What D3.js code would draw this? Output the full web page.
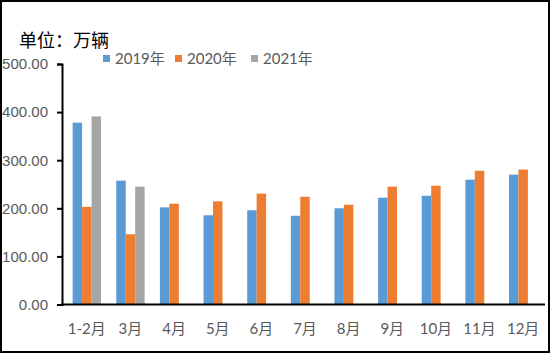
<!DOCTYPE html>
<html>
<head>
<meta charset="utf-8">
<script src="https://cdn.jsdelivr.net/npm/d3@7"></script>
<style>
  body { margin: 0; background: #fff; }
  svg { display: block; font-family: Lato, "Noto Sans CJK SC", sans-serif; }
</style>
</head>
<body>
<div id="chart"></div>
<script>
const width = 550, height = 353;

const months = ["1-2月", "3月", "4月", "5月", "6月", "7月", "8月", "9月", "10月", "11月", "12月"];
const seriesNames = ["2019年", "2020年", "2021年"];
const v2019 = [378, 257.5, 202, 185.5, 196, 184.5, 200, 222, 226, 259.5, 270];
const v2020 = [203, 146, 209.5, 214.5, 230.5, 224, 207.5, 245, 247, 278, 280.5];
const v2021 = [391, 245, null, null, null, null, null, null, null, null, null];
const yTicks = [0, 100, 200, 300, 400, 500];
const colors = ["#5B9BD5", "#ED7D31", "#A5A5A5"];

const seriesValues = [v2019, v2020, v2021];

const svg = d3.select("#chart")
  .append("svg")
  .attr("width", width)
  .attr("height", height);

// frame
svg.append("rect")
  .attr("x", 1).attr("y", 1)
  .attr("width", width - 2).attr("height", height - 2)
  .attr("fill", "none")
  .attr("stroke", "#000")
  .attr("stroke-width", 2);

const x0 = d3.scaleBand().domain(months).range([65, 545]).paddingInner(0.35).paddingOuter(0.175);
const x1 = d3.scaleBand().domain(seriesNames).range([0, x0.bandwidth()]);
const y = d3.scaleLinear().domain([0, 500]).range([304.5, 64]);

// bars
const groups = svg.append("g")
  .selectAll("g")
  .data(months)
  .join("g")
  .attr("transform", d => `translate(${x0(d)},0)`);

groups.selectAll("rect")
  .data((m, i) => seriesNames.map((s, k) => ({ s, k, v: seriesValues[k][i] })).filter(d => d.v != null))
  .join("rect")
  .attr("x", d => x1(d.s))
  .attr("width", x1.bandwidth())
  .attr("y", d => y(d.v))
  .attr("height", d => y(0) - y(d.v))
  .attr("fill", d => colors[d.k]);

// y axis
const yAxis = svg.append("g")
  .attr("transform", "translate(62,0)")
  .call(d3.axisLeft(y).tickValues(yTicks).tickFormat(d3.format(".2f")).tickSizeOuter(0).tickSize(5).tickPadding(9));
yAxis.select(".domain").attr("stroke", "#000").attr("stroke-width", 2);
yAxis.selectAll(".tick line").attr("stroke", "#000").attr("stroke-width", 2);
yAxis.selectAll(".tick text")
  .attr("fill", "#595959")
  .style("font-size", "15px");

// x axis line
svg.append("line")
  .attr("x1", 61).attr("x2", 545)
  .attr("y1", y(0)).attr("y2", y(0))
  .attr("stroke", "#000")
  .attr("stroke-width", 2);

// x labels
svg.append("g")
  .selectAll("text")
  .data(months)
  .join("text")
  .attr("x", d => x0(d) + x0.bandwidth() / 2)
  .attr("y", 334)
  .attr("text-anchor", "middle")
  .attr("fill", "#595959")
  .style("font-size", "15px")
  .text(d => d);

// unit title
svg.append("text")
  .attr("x", 19).attr("y", 47)
  .attr("fill", "#000")
  .style("font-size", "18px")
  .text("单位：万辆");

// legend
const legendX = [103, 175, 251];
const legend = svg.append("g")
  .selectAll("g")
  .data(seriesNames)
  .join("g")
  .attr("transform", (d, i) => `translate(${legendX[i]},59)`);
legend.append("rect")
  .attr("x", 0).attr("y", -4)
  .attr("width", 7).attr("height", 7)
  .attr("fill", (d, i) => colors[i]);
legend.append("text")
  .attr("x", 12).attr("y", 5)
  .attr("fill", "#595959")
  .style("font-size", "15px")
  .text(d => d);
</script>
</body>
</html>
